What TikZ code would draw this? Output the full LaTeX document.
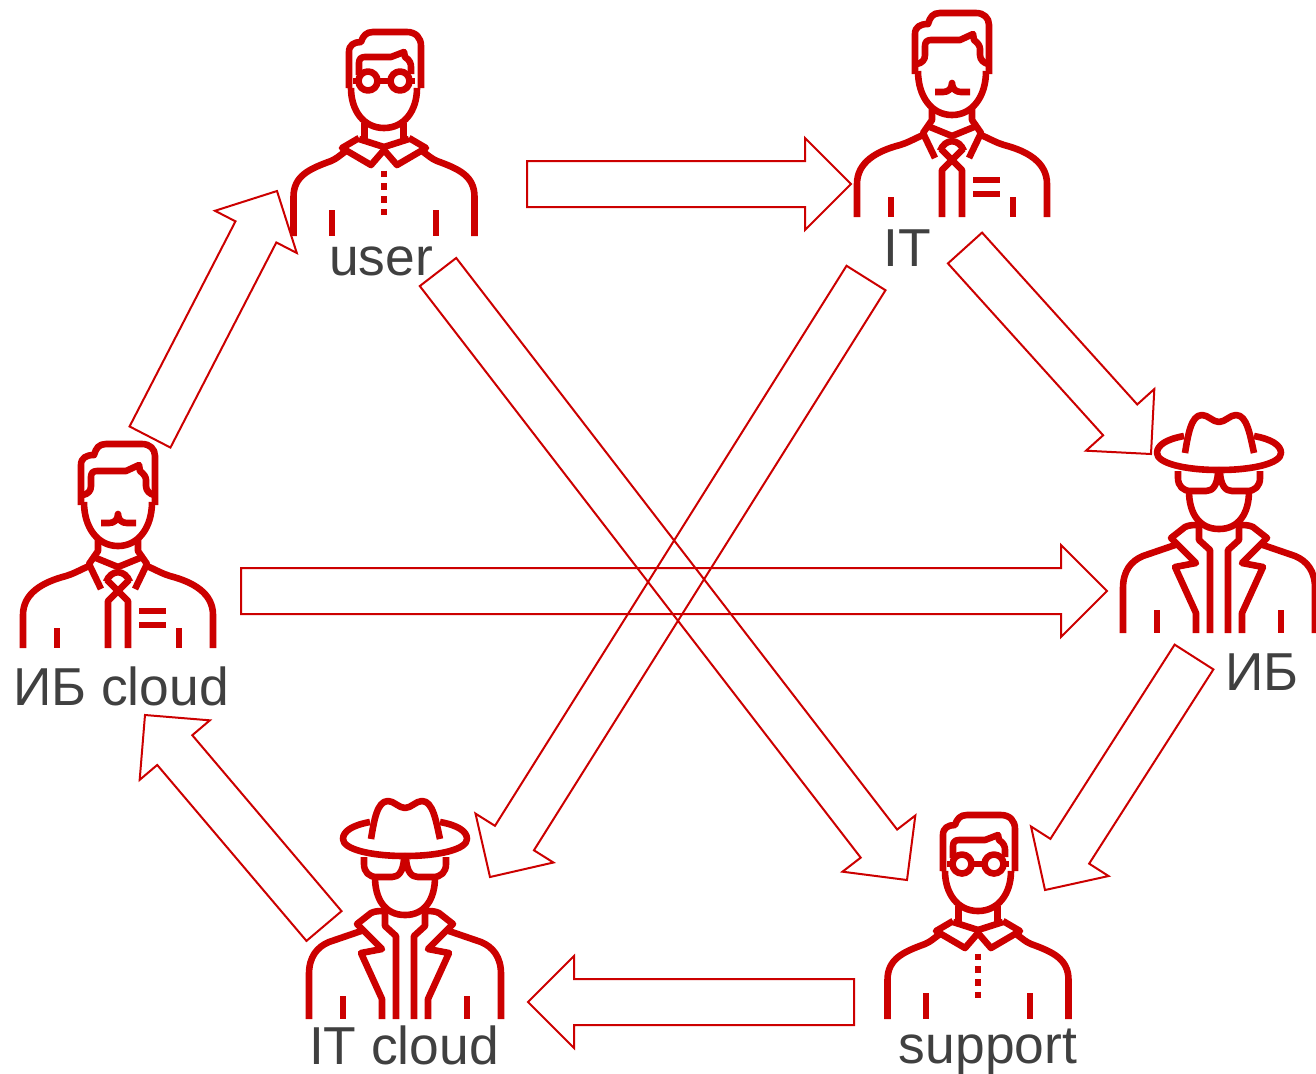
\documentclass[tikz,border=0pt]{standalone}
\usepackage{fontspec}
\setmainfont{Liberation Sans}
\usetikzlibrary{calc}
\definecolor{iconred}{HTML}{CC0000}
\definecolor{labelgrey}{HTML}{404040}
\tikzset{
  person/.style={draw=iconred,line width=3.3pt,line join=round},
  glasses man/.pic={
    \foreach \s in {-1,1} {
      \draw[person,xscale=\s] (90.5,0) -- (90.5,-39) .. controls (90.5,-60) and (75,-67) .. (53,-75) .. controls (48,-77) and (45,-80) .. (38,-85);
      \draw[person,xscale=\s] (52,-26) -- (52,0);
      \draw[person,xscale=\s] (19.5,-113) -- (19.5,-96);
      \draw[person,xscale=\s] (16,-155) circle (9.5);
      \draw[person,xscale=\s] (25,-155) -- (31,-155);
    }
    \draw[person] (-25,-98) -- (-42,-88) -- (-13,-71) -- (0,-86) -- (13,-71) -- (42,-88) -- (25,-98);
    \draw[person] (-25,-97) -- (0,-89) -- (25,-97);
    \draw[person] (-33,-148) .. controls (-33,-125) and (-20,-108) .. (0,-108) .. controls (20,-108) and (33,-125) .. (33,-148);
    \draw[person] (-35,-148) -- (-35,-184) .. controls (-35,-191) and (-30,-194) .. (-23,-194) .. controls (-21,-200) and (-18,-204) .. (-11,-204) -- (23,-204) .. controls (32,-204) and (37,-198) .. (37,-190) -- (37,-148);
    \draw[person] (-25,-161) -- (-25,-173) .. controls (-25,-177) and (-23,-179) .. (-19,-179) -- (7,-179) -- (20,-184) -- (21,-179) .. controls (26,-176) and (27,-172) .. (27,-169) -- (27,-162);
    \draw[person] (-9,-155) -- (9,-155);
    \draw[person,dash pattern=on 3.2pt off 3.2pt] (0,-65.5) -- (0,-20);
  },
  moustache man/.pic={
    \foreach \s in {-1,1} {
      \draw[person,xscale=\s] (95,0) -- (95,-33) .. controls (95,-55) and (75,-66) .. (52,-72) .. controls (45,-74) and (38,-78) .. (29,-82);
      \draw[person,xscale=\s] (61,-20) -- (61,0);
      \draw[person,xscale=\s] (20,-108) -- (20,-97) -- (29,-84) -- (17,-59);
      \draw[person,xscale=\s] (10,0) -- (10,-47) -- (-11,-68);
    }
    \draw[person] (-22,-90) -- (0,-81) -- (22,-90);
    \draw[person] (-12,-66) .. controls (-7,-79) and (7,-79) .. (12,-66);
    \draw[person] (-34,-146) .. controls (-34,-120) and (-20,-102) .. (0,-102) .. controls (20,-102) and (34,-120) .. (34,-146);
    \draw[person] (-37,-143) -- (-37,-183) .. controls (-37,-190) and (-32,-193) .. (-24,-193) .. controls (-22,-200) and (-19,-204) .. (-12,-204) -- (24,-204) .. controls (32,-204) and (37,-199) .. (37,-192) -- (37,-143);
    \draw[person] (-35,-153) .. controls (-30,-154) and (-27,-157) .. (-27,-162) -- (-27,-171) .. controls (-27,-175) and (-25,-177) .. (-21,-177) -- (8,-177) -- (21,-183) -- (22,-177) .. controls (26,-174) and (28,-171) .. (28,-168) -- (28,-162) .. controls (28,-157) and (32,-154) .. (36,-153);
    \draw[person] (-17,-125) -- (-9,-125) .. controls (-4,-125) and (0,-128) .. (0,-134) .. controls (0,-128) and (4,-125) .. (9,-125) -- (18,-125);
    \draw[person] (21,-37) -- (48,-37);
    \draw[person] (21,-23) -- (48,-23);
  },
  hat man/.pic={
    \foreach \s in {-1,1} {
      \draw[person,xscale=\s] (96,0) -- (96,-45) .. controls (96,-62) and (88,-72) .. (76,-77) -- (41,-89);
      \draw[person,xscale=\s] (62,-23) -- (62,0);
      \draw[person,xscale=\s] (20,-107) -- (20,-93) -- (9,-83) -- (9,0);
      \draw[person,xscale=\s] (20,-108) .. controls (26,-108) and (30,-108) .. (34,-106) -- (48,-95) -- (23,-70) -- (44,-66) -- (23,-20) -- (23,0);
      \draw[person,xscale=\s] (41,-162) -- (41,-155) .. controls (41,-147) and (36,-142) .. (28,-142) -- (13,-142) .. controls (6,-142) and (2,-148) .. (1,-160);
      \draw[person,xscale=\s] (35,-197) .. controls (52,-194) and (62,-188) .. (62,-180) .. controls (62,-170) and (35,-163) .. (0,-163);
    }
    \draw[person] (-30,-142) .. controls (-30,-120) and (-20,-104) .. (0,-104) .. controls (20,-104) and (30,-120) .. (30,-142);
    \draw[person] (-34,-180) .. controls (-31,-198) and (-28,-218) .. (-17,-218) .. controls (-11,-218) and (-6,-211) .. (0,-211) .. controls (6,-211) and (11,-218) .. (17,-218) .. controls (28,-218) and (31,-198) .. (35,-180);
  },
  person label/.style={font=\fontsize{26.7}{30}\selectfont,text=labelgrey,inner sep=0pt},
  hollow arrow/.style={
    draw=iconred,line width=1pt,line join=miter,
    to path={($(\tikztostart)!11.5pt!90:(\tikztotarget)$)
      -- ($(\tikztotarget)!23pt!(\tikztostart)!11.5pt!90:(\tikztotarget)$)
      -- ($(\tikztotarget)!23pt!(\tikztostart)!23pt!90:(\tikztotarget)$)
      -- (\tikztotarget)
      -- ($(\tikztotarget)!23pt!(\tikztostart)!23pt!-90:(\tikztotarget)$)
      -- ($(\tikztotarget)!23pt!(\tikztostart)!11.5pt!-90:(\tikztotarget)$)
      -- ($(\tikztostart)!11.5pt!-90:(\tikztotarget)$) -- cycle}
  }
}
\begin{document}
\begin{tikzpicture}[x=.5pt,y=-.5pt]
  \useasboundingbox (0,0) rectangle (1316,1073);

  \pic (userman) at (384,236) {glasses man};
  \pic (itman) at (952,217) {moustache man};
  \pic (ibman) at (1219,633) {hat man};
  \pic (supportman) at (978,1019) {glasses man};
  \pic (itcloudman) at (405,1019) {hat man};
  \pic (ibcloudman) at (118,648) {moustache man};

  \node[person label] (user) at (381,261) {user};
  \node[person label] (it) at (907,248) {IT};
  \node[person label] (ib) at (1262,672) {ИБ};
  \node[person label] (support) at (988,1052) {support};
  \node[person label] (itcloud) at (404,1045) {IT cloud};
  \node[person label] (ibcloud) at (121,686) {ИБ cloud};

  % arrow ends
  \coordinate (a1) at (527,184);
  \coordinate (b1) at (851,184);
  \coordinate (a2) at (965,248);
  \coordinate (b2) at (1151,454);
  \coordinate (a3) at (1194,657);
  \coordinate (b3) at (1045,890);
  \coordinate (a4) at (854,1002);
  \coordinate (b4) at (528,1002);
  \coordinate (a5) at (324,926);
  \coordinate (b5) at (145,715);
  \coordinate (a6) at (150,437);
  \coordinate (b6) at (277,191);
  \coordinate (a7) at (241,591);
  \coordinate (b7) at (1107,591);
  \coordinate (a8) at (438,272);
  \coordinate (b8) at (907,880);
  \coordinate (a9) at (866,278);
  \coordinate (b9) at (490,877);

  \path
    (a1) edge[hollow arrow] (b1)
    (a2) edge[hollow arrow] (b2)
    (a3) edge[hollow arrow] (b3)
    (a4) edge[hollow arrow] (b4)
    (a5) edge[hollow arrow] (b5)
    (a6) edge[hollow arrow] (b6)
    (a7) edge[hollow arrow] (b7)
    (a8) edge[hollow arrow] (b8)
    (a9) edge[hollow arrow] (b9);
\end{tikzpicture}
\end{document}
